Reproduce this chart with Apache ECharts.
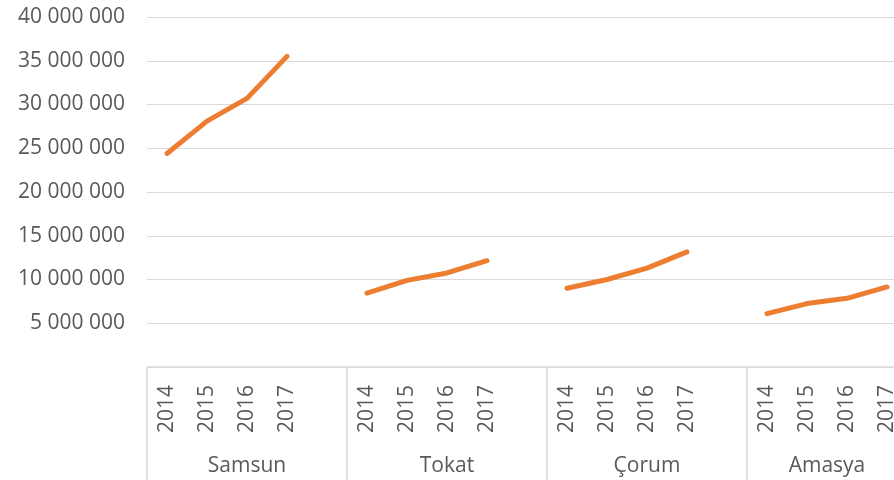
<!DOCTYPE html>
<html>
<head>
<meta charset="utf-8">
<script src="https://cdn.jsdelivr.net/npm/echarts@6/dist/echarts.min.js"></script>
<style>
  html, body { margin: 0; padding: 0; background: #fff; overflow: hidden; width: 894px; height: 480px; }
  /* plot runs a little past the right edge of the window, as in the original */
  #main { width: 910px; height: 480px; }
</style>
</head>
<body>
<div id="main"></div>
<script>
  // provinces and years (a blank slot sits between provinces, like the sheet)
  const provinces = ["Samsun", "Tokat", "Çorum", "Amasya"]
  const years = ["2014", "2015", "2016", "2017"]

  const samsun = [24400000, 28100000, 30700000, 35500000]
  const tokat = [8450000, 9900000, 10750000, 12150000]
  const corum = [9000000, 10000000, 11300000, 13150000]
  const amasya = [6100000, 7250000, 7850000, 9150000]

  const yTicks = [0, 5000000, 10000000, 15000000, 20000000, 25000000, 30000000, 35000000, 40000000]

  // flatten to one category axis, with a null gap between provinces
  const categories = []
  const values = []
  const groupStart = []
  ;[samsun, tokat, corum, amasya].forEach((serie, k) => {
    if (k > 0) {
      categories.push("")
      values.push(null)
    }
    groupStart.push(categories.length)
    years.forEach((y, i) => {
      categories.push(y)
      values.push(serie[i])
    })
  })

  // half-slot axis for the province names, each name in the middle of its years
  const halfSlots = new Array(categories.length * 2 + 1).fill("")
  provinces.forEach((p, k) => {
    const end = k < provinces.length - 1 ? groupStart[k + 1] : categories.length
    halfSlots[groupStart[k] + end] = p
  })

  const fmt = v => v === 0 ? "" : String(v).replace(/\B(?=(\d{3})+(?!\d))/g, " ")

  const textColor = "#595959"
  const lineColor = "#d9d9d9"
  const font = "'Open Sans', sans-serif"

  let myChart = echarts.init(document.getElementById('main'))

  let option = {
    animation: false,
    grid: { left: 147, right: 1, top: 17, bottom: 113 },
    yAxis: {
      type: 'value',
      min: yTicks[0],
      max: yTicks[yTicks.length - 1],
      interval: yTicks[1] - yTicks[0],
      axisLine: { show: false },
      axisTick: { show: false },
      splitLine: { lineStyle: { color: lineColor, width: 1 } },
      axisLabel: {
        color: textColor,
        fontFamily: font,
        fontSize: 21,
        margin: 22,
        formatter: fmt
      }
    },
    xAxis: [
      {
        type: 'category',
        data: categories,
        boundaryGap: true,
        axisLine: { lineStyle: { color: lineColor, width: 1.5 } },
        axisTick: {
          show: true,
          length: 115,
          interval: i => i === 0 || categories[i - 1] === "",
          lineStyle: { color: lineColor, width: 1.5 }
        },
        axisLabel: {
          interval: 0,
          rotate: 90,
          margin: 18,
          color: textColor,
          fontFamily: font,
          fontSize: 21
        }
      },
      {
        type: 'category',
        data: halfSlots,
        position: 'bottom',
        boundaryGap: false,
        axisLine: { show: false },
        axisTick: { show: false },
        axisLabel: {
          interval: 0,
          margin: 89,
          color: textColor,
          fontFamily: font,
          fontSize: 21
        }
      }
    ],
    series: [
      {
        type: 'line',
        xAxisIndex: 0,
        data: values,
        connectNulls: false,
        symbol: 'none',
        lineStyle: { color: '#ED7D31', width: 5, cap: 'round', join: 'round' }
      }
    ]
  }

  myChart.setOption(option)
</script>
</body>
</html>
